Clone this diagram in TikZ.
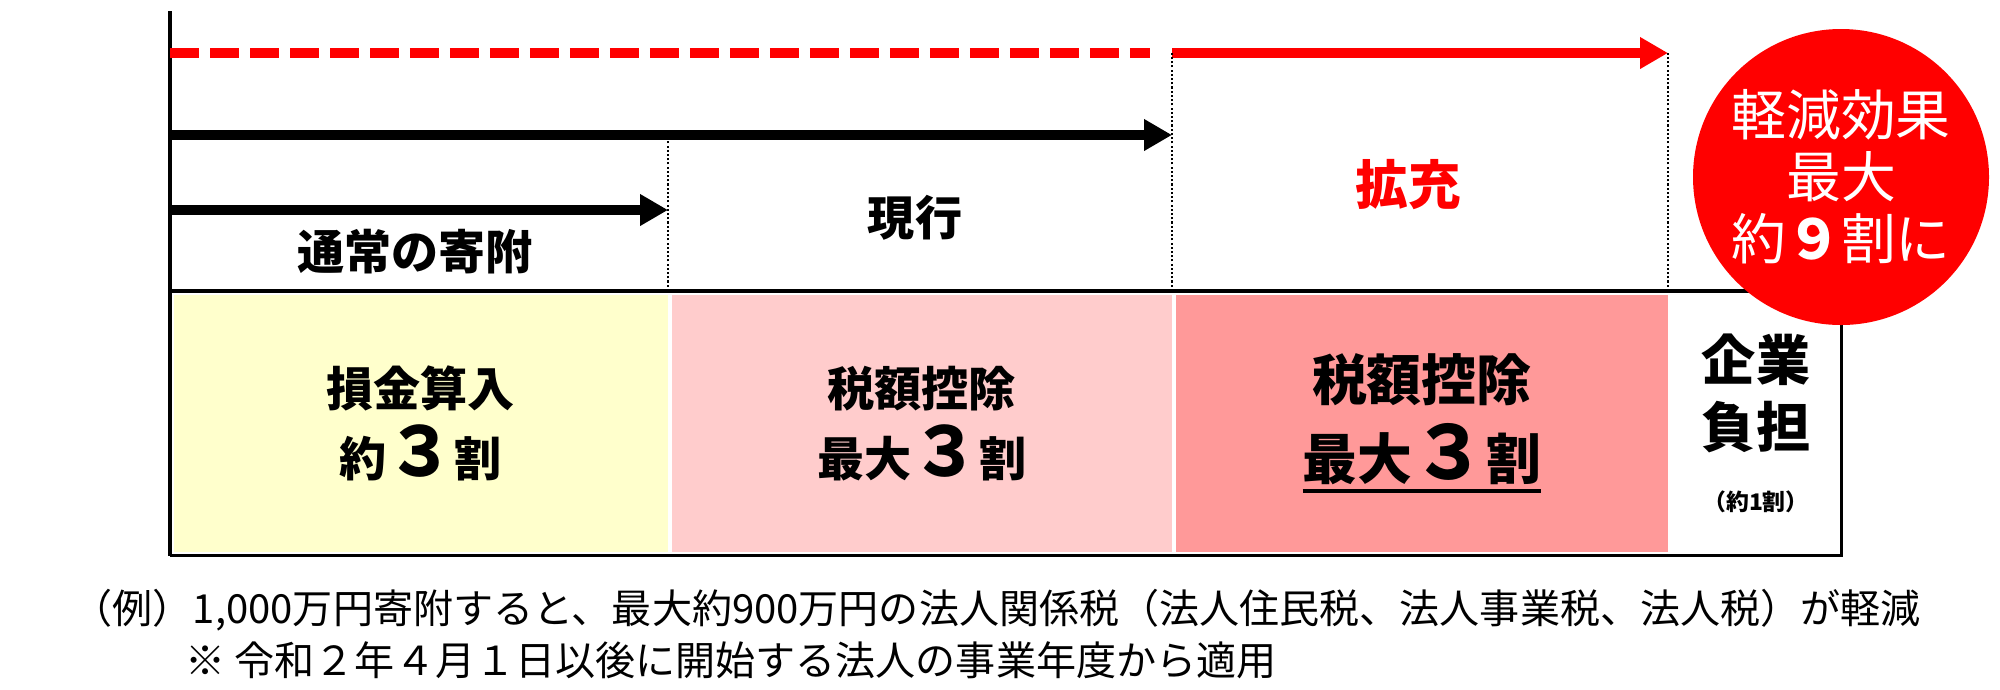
\documentclass[tikz,border=0pt]{standalone}
\usepackage{fontspec}
\setmainfont{Noto Sans CJK JP}
\usepackage{tikz}
\usetikzlibrary{positioning, arrows.meta, calc}
\definecolor{myRed}{HTML}{FF0000}
\definecolor{myYellow}{HTML}{FFFFCC}
\definecolor{myPink}{HTML}{FFCCCC}
\definecolor{myRose}{HTML}{FF9999}
\newcommand{\bignum}[2][19.4]{{\fontsize{#1}{20}\selectfont #2}}
\newcommand{\thickul}[1]{\setbox0=\hbox{#1}\rlap{\rule[-0.13cm]{\wd0}{0.04cm}}\box0}

\begin{document}
\begin{tikzpicture}[
  cell/.style={draw=white, line width=1pt, minimum height=2.61cm,
               inner sep=0pt, anchor=north west},
  lbl/.style={font=\bfseries\fontsize{13.4}{19.9}\selectfont,
              align=center, inner sep=0pt},
  arr/.style={line width=0.1cm, -{Triangle[length=0.28cm, width=0.3cm]}},
  guide/.style={line width=0.8pt, dash pattern=on 0.6pt off 0.6pt}
]
\useasboundingbox (0,0) rectangle (20,-6.89);

% bottom cells
\node[cell, fill=myYellow, minimum width=4.98cm] (c1) at (1.70,-2.91) {};
\node[cell, fill=myPink, minimum width=5.04cm] (c2) at (6.68,-2.91) {};
\node[cell, fill=myRose, minimum width=4.96cm] (c3) at (11.72,-2.91) {};
\node[cell, fill=white, minimum width=1.70cm] (c4) at (16.68,-2.91) {};

\coordinate (top) at (1.70,-0.11);
\draw[line width=1.1pt] (c1.north west) -- (c4.north east) -- (c4.south east) -- (c1.south west);
\draw[line width=0.9pt] (top) -- (c1.south west);

% arrows
\coordinate (r0) at (1.70,-0.53);
\coordinate (r1) at (11.50,-0.53);
\coordinate (r2) at (11.72,-0.53);
\coordinate (r3) at (16.68,-0.53);
\coordinate (b0) at (1.70,-1.35);
\coordinate (b1) at (11.72,-1.35);
\coordinate (a0) at (1.70,-2.10);
\coordinate (a1) at (6.68,-2.10);
\draw[myRed, line width=0.1cm, dash pattern=on 0.29cm off 0.11cm] (r0) -- (r1);
\draw[arr, myRed] (r2) -- (r3);
\draw[arr] (b0) -- (b1);
\draw[arr] (a0) -- (a1);

\draw[guide] (c2.north west) -- (c2.north west |- b0);
\draw[guide] (c3.north west) -- (r2);
\draw[guide] (c4.north west) -- (r3);

% labels
\node[lbl] (usual) at (4.15,-2.52) {通常の寄附};
\node[lbl] (now) at (9.15,-2.18) {現行};
\node[lbl, text=myRed, font=\bfseries\fontsize{15}{18}\selectfont] (ext) at (14.08,-1.85) {拡充};

\node[lbl] (t1) at (c1.center) {損金算入\\約\bignum{３}割};
\node[lbl] (t2) at (c2.center) {税額控除\\最大\bignum{３}割};
\node[lbl, font=\bfseries\fontsize{15.6}{22.5}\selectfont] (t3) at (c3.center)
  {税額控除\\\thickul{最大\bignum[21]{３}割}};
\node[lbl, font=\bfseries\fontsize{15.4}{19}\selectfont] (t4) at (17.56,-3.935) {企業\\負担};
\node[lbl, font=\bfseries\fontsize{6.5}{8}\selectfont] (t5) at (17.56,-5.02) {（約1割）};

\node[circle, fill=myRed, minimum size=2.96cm, inner sep=0pt, text=white,
      align=center, font=\fontsize{15.6}{17.6}\selectfont] (effect) at (18.41,-1.77)
  {軽減効果\\最大\\約{\bfseries ９}割に};

\node[anchor=west, inner sep=0pt, font=\fontsize{11.4}{14}\selectfont] (ex) at (0.72,-6.10)
  {（例）1,000万円寄附すると、最大約900万円の法人関係税（法人住民税、法人事業税、法人税）が軽減};
\node[anchor=west, inner sep=0pt, font=\fontsize{11.4}{14}\selectfont] (note) at (1.85,-6.60)
  {※ 令和２年４月１日以後に開始する法人の事業年度から適用};
\end{tikzpicture}
\end{document}
